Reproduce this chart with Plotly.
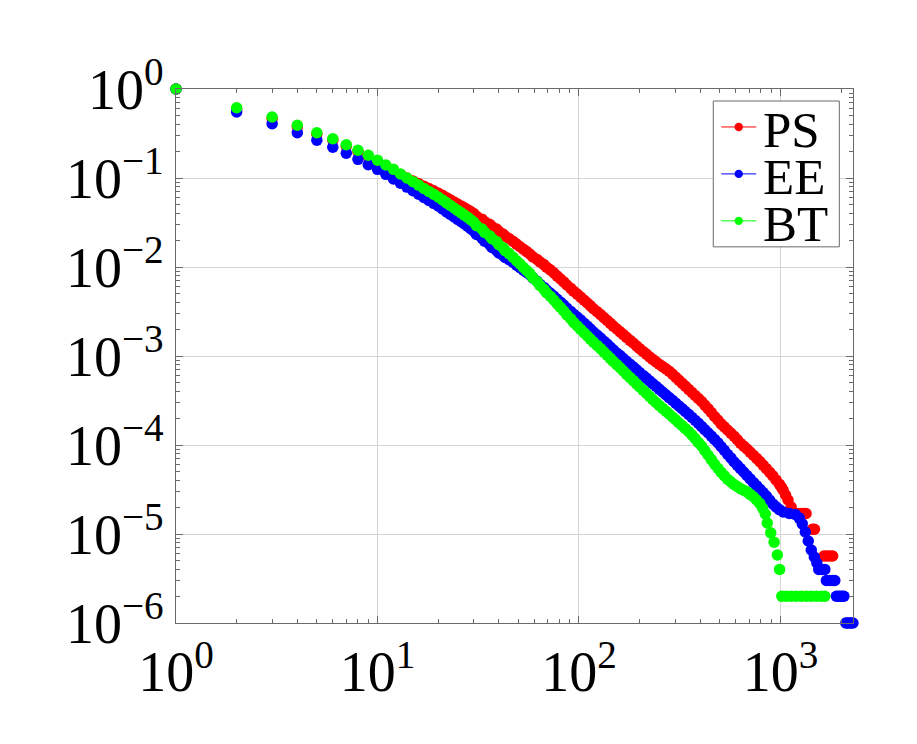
import plotly.graph_objects as go

# ---------------- data ----------------
degree_grid = [1, 2, 3, 4, 5, 6, 7, 8, 9, 10, 11, 12, 13, 14, 15, 16, 17, 18, 19, 20,
               22, 24, 26, 28, 30, 33, 36, 39, 42, 45, 49, 53, 57, 62, 67, 72, 78, 84, 91, 98,
               106, 114, 123, 133, 143, 154, 166, 179, 193, 208, 224, 241, 260, 280, 302, 325,
               350, 377, 406, 437, 471, 507, 546, 588, 633, 682, 734, 790]
degree_mid = [21, 23, 25, 27, 29, 31, 34, 37, 40, 43, 47, 51, 55, 59, 64, 69, 75, 81, 87, 94,
              102, 110, 118, 128, 138, 148, 160, 172, 186, 200, 216, 232, 250, 270, 291, 313,
              337, 363, 391, 421, 454, 489, 526, 567, 610, 657, 707, 761]

ps_grid_y = [1.0, 0.593, 0.466, 0.376, 0.3105, 0.266, 0.2276, 0.197, 0.173, 0.1536,
             0.1357, 0.1217, 0.1098, 0.1, 0.0928, 0.0865, 0.0809, 0.0760, 0.0718, 0.0678,
             0.0601, 0.0537, 0.0486, 0.0441, 0.0400, 0.0345, 0.0302, 0.0267, 0.0235, 0.0209,
             0.0181, 0.01585, 0.0140, 0.01214, 0.01064, 0.00930, 0.00790, 0.00680, 0.00576, 0.00496,
             0.00424, 0.00366, 0.00315, 0.00270, 0.00233, 0.00201, 0.00174, 0.00150, 0.001299, 0.001124,
             0.000977, 0.000859, 0.000760, 0.000675, 0.000578, 0.000495, 0.000422, 0.000361, 0.000308, 0.000256,
             0.000209, 0.000173, 0.0001474, 0.0001256, 0.0001047, 0.0000902, 0.0000768, 0.0000651]
ps_mid_y = [0.0639, 0.0568, 0.0511, 0.0463, 0.0420, 0.0372, 0.0323, 0.0284, 0.0251, 0.0222,
            0.0195, 0.0169, 0.0149, 0.0130, 0.0114, 0.00995, 0.0086, 0.00734, 0.00627, 0.00535,
            0.00459, 0.00394, 0.00340, 0.00292, 0.00251, 0.00217, 0.00187, 0.00162, 0.00140, 0.00121,
            0.00105, 0.000917, 0.000808, 0.000717, 0.000626, 0.000536, 0.000458, 0.000391, 0.000334, 0.000281,
            0.000232, 0.000191, 0.000160, 0.000136, 0.000115, 0.0000972, 0.0000833, 0.0000708]
ps_tail_x = [820, 851, 883, 916, 950, 987, 1010, 1030, 1060, 1090, 1130, 1190, 1230, 1270, 1310, 1340,
             1440, 1475, 1645, 1700, 1760, 1815]
ps_tail_y = [5.95e-5, 5.42e-5, 4.95e-5, 4.50e-5, 4.05e-5, 3.63e-5, 3.36e-5, 3.12e-5, 2.74e-5, 2.41e-5,
             2.01e-5, 1.7e-5, 1.7e-5, 1.7e-5, 1.7e-5, 1.7e-5,
             1.13e-5, 1.13e-5, 5.66e-6, 5.66e-6, 5.66e-6, 5.66e-6]

ee_grid_y = [1.0, 0.5514, 0.4075, 0.3228, 0.2652, 0.2213, 0.1895, 0.1622, 0.1411, 0.1252,
             0.1100, 0.0977, 0.0874, 0.0790, 0.0718, 0.0658, 0.0605, 0.0560, 0.0519, 0.0484,
             0.0417, 0.0365, 0.0322, 0.0287, 0.0254, 0.0211, 0.0179, 0.01532, 0.01354, 0.01208,
             0.01050, 0.00923, 0.00820, 0.00691, 0.00590, 0.00510, 0.00434, 0.00373, 0.00317, 0.00274,
             0.00233, 0.00201, 0.00172, 0.001463, 0.001259, 0.001081, 0.000935, 0.000809, 0.000700, 0.000605,
             0.000525, 0.000457, 0.000394, 0.000341, 0.000295, 0.000256, 0.000221, 0.0001895, 0.0001618, 0.0001371,
             0.0001156, 0.0000962, 0.0000788, 0.0000648, 0.0000543, 0.0000454, 0.0000380, 0.0000319]
ee_mid_y = [0.0450, 0.0390, 0.0343, 0.0304, 0.0270, 0.0232, 0.0195, 0.0166, 0.0144, 0.0128,
            0.0113, 0.00985, 0.00870, 0.00755, 0.00640, 0.00550, 0.00472, 0.00403, 0.00345, 0.00295,
            0.00253, 0.00217, 0.00186, 0.00159, 0.00136, 0.00117, 0.00101, 0.000872, 0.000754, 0.000652,
            0.000565, 0.000490, 0.000425, 0.000367, 0.000318, 0.000275, 0.000238, 0.000205, 0.000176, 0.000149,
            0.000126, 0.000106, 0.0000873, 0.0000716, 0.0000594, 0.0000497, 0.0000416, 0.0000349]
ee_tail_x = [820, 851, 883, 916, 950, 987, 1032, 1106, 1184, 1240, 1283, 1328, 1374, 1422, 1472, 1515,
             1549, 1604, 1660, 1690, 1750, 1810, 1860, 1895, 1940, 1985, 2030, 2065,
             2110, 2150, 2195, 2240, 2290]
ee_tail_y = [2.92e-5, 2.67e-5, 2.41e-5, 2.18e-5, 2.02e-5, 1.88e-5, 1.77e-5, 1.70e-5, 1.66e-5, 1.51e-5,
             1.30e-5, 1.053e-5, 8.34e-6, 6.61e-6, 5.51e-6, 4.72e-6,
             4e-6, 4e-6, 4e-6, 3e-6, 3e-6, 3e-6, 3e-6, 2e-6, 2e-6, 2e-6, 2e-6, 2e-6,
             1e-6, 1e-6, 1e-6, 1e-6, 1e-6]

bt_grid_y = [1.0, 0.6165, 0.4845, 0.391, 0.3228, 0.2764, 0.2366, 0.2048, 0.1799, 0.1581,
             0.1400, 0.1252, 0.1109, 0.1, 0.0909, 0.0832, 0.0764, 0.0707, 0.0656, 0.0611,
             0.0526, 0.0460, 0.0406, 0.0362, 0.0320, 0.0267, 0.0225, 0.01934, 0.01648, 0.01414,
             0.01174, 0.00987, 0.00843, 0.00684, 0.00563, 0.00470, 0.00385, 0.00320, 0.00262, 0.00218,
             0.00182, 0.00155, 0.001316, 0.001106, 0.000942, 0.000801, 0.000679, 0.000575, 0.000487, 0.000413,
             0.000352, 0.000301, 0.000258, 0.000223, 0.000192, 0.0001656, 0.0001418, 0.0001183, 0.0000975, 0.0000772,
             0.0000607, 0.0000495, 0.0000412, 0.0000361, 0.0000324, 0.0000297, 0.0000262, 0.0000220]
bt_mid_y = [0.0567, 0.0492, 0.0432, 0.0383, 0.0340, 0.0292, 0.0245, 0.0208, 0.0178, 0.0153,
            0.0129, 0.0108, 0.00913, 0.00760, 0.00621, 0.00515, 0.00426, 0.00351, 0.00290, 0.00239,
            0.00199, 0.00168, 0.00143, 0.00121, 0.00102, 0.000869, 0.000738, 0.000625, 0.000529, 0.000448,
            0.000381, 0.000326, 0.000279, 0.000240, 0.000207, 0.000178, 0.000153, 0.000130, 0.000107, 0.0000868,
            0.0000685, 0.0000548, 0.0000452, 0.0000386, 0.0000342, 0.0000310, 0.0000279, 0.0000241]
bt_tail_x = [815, 841, 860, 895, 930, 965, 990, 1015, 1069, 1131, 1198, 1269, 1343, 1422, 1506, 1594, 1660]
bt_tail_y = [1.95e-5, 1.68e-5, 1.33e-5, 1.03e-5, 8.1e-6, 5.8e-6, 4.0e-6,
             2e-6, 2e-6, 2e-6, 2e-6, 2e-6, 2e-6, 2e-6, 2e-6, 2e-6, 2e-6]

series_names = ["PS", "EE", "BT"]
series_colors = ["#ff0000", "#0000ff", "#00ff00"]

x_tick_vals = [1, 10, 100, 1000]
x_tick_text = ["10<sup>0</sup>", "10<sup>1</sup>", "10<sup>2</sup>", "10<sup>3</sup>"]
y_tick_vals = [1, 1e-1, 1e-2, 1e-3, 1e-4, 1e-5, 1e-6]
y_tick_text = ["10<sup>0</sup>", "10<sup>−1</sup>", "10<sup>−2</sup>", "10<sup>−3</sup>",
               "10<sup>−4</sup>", "10<sup>−5</sup>", "10<sup>−6</sup>"]

# ---------------- figure ----------------
FONT = "Liberation Serif, Times New Roman, serif"
AX = "#6a6a6a"
series = [
    (degree_grid + degree_mid + ps_tail_x, ps_grid_y + ps_mid_y + ps_tail_y),
    (degree_grid + degree_mid + ee_tail_x, ee_grid_y + ee_mid_y + ee_tail_y),
    (degree_grid + degree_mid + bt_tail_x, bt_grid_y + bt_mid_y + bt_tail_y),
]

fig = go.Figure()
for (xs, ys), name, col in zip(series, series_names, series_colors):
    fig.add_trace(go.Scatter(x=xs, y=ys, name=name, mode="markers",
                             marker=dict(color=col, size=11.5, line=dict(width=0)),
                             cliponaxis=False, showlegend=False))

minor_vals = [m * 10 ** k for k in range(-6, 4) for m in range(2, 10)]

axis_common = dict(type="log", showline=True, linecolor=AX, linewidth=1.2, mirror="ticks",
                   ticks="inside", ticklen=7, tickcolor=AX, tickwidth=1,
                   showgrid=True, gridcolor="#d4d4d4", gridwidth=1, zeroline=False,
                   tickfont=dict(family=FONT, size=56, color="black"),
                   minor=dict(tickvals=minor_vals, ticks="inside", ticklen=4,
                              tickcolor=AX, tickwidth=1, showgrid=False))

fig.update_xaxes(**axis_common, range=[0, 3.36], tickmode="array",
                 tickvals=x_tick_vals, ticktext=x_tick_text)
fig.update_yaxes(**axis_common, range=[-6, 0], tickmode="array",
                 tickvals=y_tick_vals, ticktext=y_tick_text)

# manual legend (pgfplots style)
leg_x0, leg_x1, leg_y0, leg_y1 = 0.7936, 0.9798, 0.7044, 0.9775
entry_y = [0.9289, 0.8410, 0.7531]
fig.add_shape(type="rect", xref="paper", yref="paper", x0=leg_x0, x1=leg_x1, y0=leg_y0, y1=leg_y1,
              line=dict(color=AX, width=1), fillcolor="white", layer="above")
dx = 4.2 / 676.7
dy = 4.2 / 534.5
for name, col, yy in zip(series_names, series_colors, entry_y):
    fig.add_shape(type="line", xref="paper", yref="paper", x0=0.8054, x1=0.8571, y0=yy, y1=yy,
                  line=dict(color=col, width=1), layer="above")
    fig.add_shape(type="circle", xref="paper", yref="paper", x0=0.8312 - dx, x1=0.8312 + dx,
                  y0=yy - dy, y1=yy + dy, line=dict(width=0), fillcolor=col, layer="above")
    fig.add_annotation(xref="paper", yref="paper", x=0.866, y=yy - 0.006, text=name, showarrow=False,
                       xanchor="left", yanchor="middle", height=44, valign="middle", borderpad=0,
                       font=dict(family=FONT, size=51, color="black"))

fig.update_layout(width=917, height=744, margin=dict(l=176, r=64.3, t=89, b=120.5),
                  plot_bgcolor="white", paper_bgcolor="white", showlegend=False,
                  font=dict(family=FONT))

fig.write_html("out.html")
